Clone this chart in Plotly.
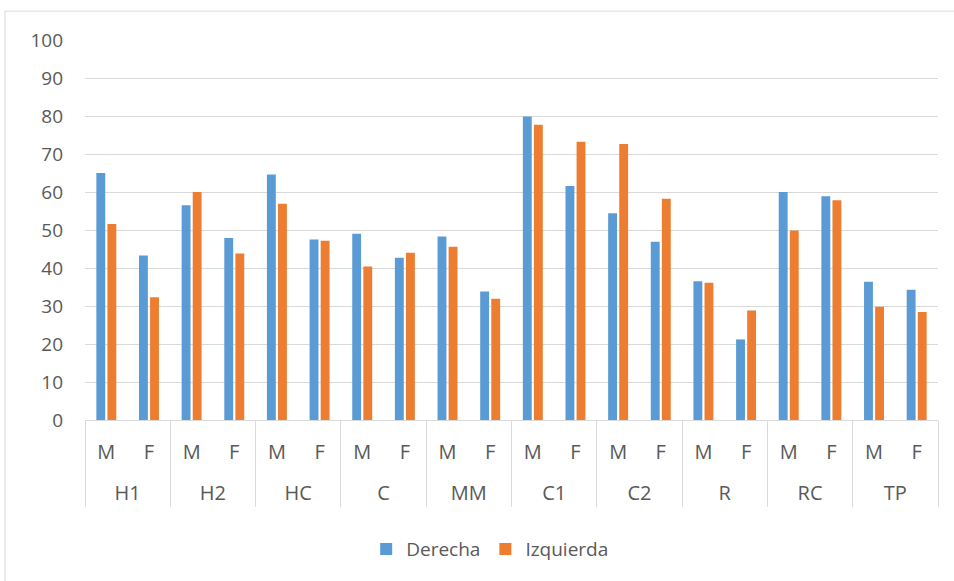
import plotly.graph_objects as go

groups = ["H1", "H2", "HC", "C", "MM", "C1", "C2", "R", "RC", "TP"]
sexes = ["M", "F"]
derecha = [65.0, 43.3, 56.5, 47.9, 64.6, 47.5, 49.0, 42.7, 48.3, 33.8,
           79.9, 61.6, 54.4, 46.9, 36.5, 21.2, 60.0, 58.9, 36.4, 34.3]
izquierda = [51.6, 32.3, 60.0, 43.8, 56.9, 47.2, 40.4, 44.0, 45.6, 31.9,
             77.7, 73.2, 72.6, 58.2, 36.1, 28.8, 49.9, 57.8, 29.8, 28.4]
y_ticks = [0, 10, 20, 30, 40, 50, 60, 70, 80, 90, 100]

# outer (group) labels are pushed one line lower to leave room, as in the original
outer = ["<br>" + g for g in groups for _ in sexes]
inner = [s for _ in groups for s in sexes]

fig = go.Figure()
fig.add_trace(go.Bar(x=[outer, inner], y=derecha, name="Derecha",
                     marker=dict(color="#5b9bd5", line=dict(width=0))))
fig.add_trace(go.Bar(x=[outer, inner], y=izquierda, name="Izquierda",
                     marker=dict(color="#ed7d31", line=dict(width=0))))

font_family = "Open Sans, Liberation Sans, Arial, sans-serif"
fig.update_layout(
    width=954, height=581,
    margin=dict(l=85, r=16, t=40, b=161),
    paper_bgcolor="white", plot_bgcolor="white",
    barmode="group", bargap=0.48, bargroupgap=0.2,
    font=dict(family=font_family, size=19, color="#595959"),
    showlegend=True,
    legend=dict(orientation="h", x=0.475, xanchor="center", y=-0.34, yanchor="middle",
                font=dict(size=19, color="#595959"), itemwidth=30,
                traceorder="normal"),
    xaxis=dict(type="multicategory", showgrid=False, showline=True,
               linecolor="#d9d9d9", linewidth=1, ticks="",
               showdividers=True, dividercolor="#d9d9d9", dividerwidth=1,
               ticklabelstandoff=14,
               tickfont=dict(size=20, color="#595959")),
    yaxis=dict(range=[0, 100], tickvals=y_ticks, showgrid=True,
               gridcolor="#d9d9d9", gridwidth=1, zeroline=False,
               showline=False, ticks="", ticklabelstandoff=21,
               tickfont=dict(size=19, color="#595959")),
    shapes=[dict(type="rect", xref="paper", yref="paper",
                 x0=-0.0938, x1=1.1, y0=-0.5, y1=1.076,
                 line=dict(color="#d9d9d9", width=1), fillcolor="rgba(0,0,0,0)",
                 layer="below")],
)

fig.write_html("out.html", config={"displayModeBar": False},
               post_script="document.body.style.margin='0';")
